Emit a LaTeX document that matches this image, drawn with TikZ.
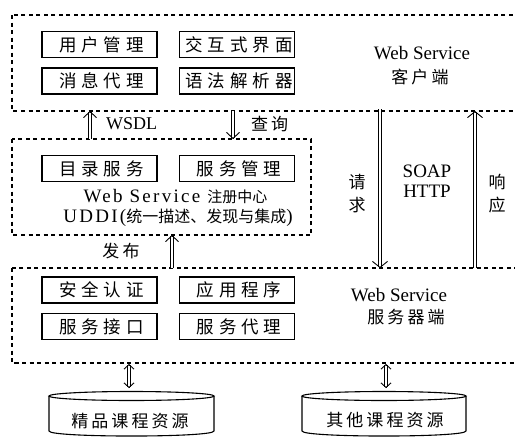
\documentclass[tikz,border=0pt]{standalone}
\usepackage{fontspec}
\setmainfont{Liberation Serif}
\newfontfamily\serifwide{Liberation Serif}[LetterSpace=12]
\newfontfamily\cjk{Noto Sans CJK SC}
\newfontfamily\cjkwide{Noto Sans CJK SC}[LetterSpace=28]
\newfontfamily\cjkmid{Noto Sans CJK SC}[LetterSpace=18]
\usetikzlibrary{arrows.meta,calc}

% hollow double-shaft arrow: shaft from #1 to #2, open chevron at #2
\newcommand\flowarrow[3][14pt]{%
  \draw[shaft, shorten >=1pt] (#2) -- (#3);
  \draw[barb, -{Straight Barb[length=6pt, width=#1]}] ($(#3)!0.5pt!(#2)$) -- (#3);}
\newcommand\bothways[2]{%
  \draw[shaft, shorten >=1pt, shorten <=1pt] (#1) -- (#2);
  \draw[barb, -{Straight Barb[length=4.5pt, width=10pt]}] ($(#2)!0.5pt!(#1)$) -- (#2);
  \draw[barb, -{Straight Barb[length=4.5pt, width=10pt]}] ($(#1)!0.5pt!(#2)$) -- (#1);}

\begin{document}
\begin{tikzpicture}[x=1pt,y=-1pt,
  frame/.style={draw, line width=1.1pt, dash pattern=on 4pt off 3.5pt},
  unit/.style={draw, line width=1.5pt, minimum width=115pt, minimum height=26pt,
    inner sep=0pt, font=\fontsize{17.5}{20}\cjkwide},
  latin/.style={inner sep=0pt, font=\fontsize{19}{20}\selectfont, align=center},
  hanzi/.style={inner sep=0pt, font=\fontsize{17}{23}\cjkmid, align=center},
  shaft/.style={double, double distance=2.4pt, line width=0.8pt},
  barb/.style={line width=0.9pt},
  drum/.style={line width=1.1pt}]

\useasboundingbox (0,0) rectangle (515,437);
\clip (0,0) rectangle (515,437);

% ---------- client tier ----------
\draw[frame] (12,15) rectangle (530,111);
\coordinate (cliB-wsdl) at (90,111);
\coordinate (cliB-query) at (233,111);
\coordinate (cliB-req) at (380,109);
\coordinate (cliB-resp) at (475,111);
\node[unit] (user)  at (99.5,44.5) {\hspace{4pt}用户管理};
\node[unit] (ui)    at (237,44.5)  {\hspace{4pt}交互式界面};
\node[unit] (msg)   at (99.5,81)   {\hspace{4pt}消息代理};
\node[unit] (parse) at (237,81)    {\hspace{4pt}语法解析器};
\node[latin] (cliname) at (422,53) {Web Service};
\node[hanzi] (clisub)  at (420,77) {客户端};

% ---------- registry ----------
\draw[frame] (12,139) rectangle (311,235);
\coordinate (regT-wsdl) at (90,139);
\coordinate (regT-query) at (233,139);
\coordinate (regB-pub) at (172,235);
\node[unit] (dir)  at (99.5,168.5) {\hspace{4pt}目录服务};
\node[unit] (mgmt) at (237,168.5)  {\hspace{4pt}服务管理};
\node[inner sep=0pt] (regname) at (175.5,197)
  {\fontsize{19}{20}\serifwide Web Service \fontsize{15}{20}\cjk 注册中心};
\node[inner sep=0pt] (uddi) at (178,218)
  {\fontsize{19}{20}\serifwide UDDI(\fontsize{16}{20}\cjk 统一描述、发现与集成\fontsize{19}{20}\serifwide )};

% ---------- server tier ----------
\draw[frame] (12,268) rectangle (530,363);
\coordinate (srvT-pub) at (172,268);
\coordinate (srvT-req) at (380,268);
\coordinate (srvT-resp) at (475,268);
\coordinate (srvB-a) at (129,364);
\coordinate (srvB-b) at (386,364);
\node[unit] (auth)  at (99.5,290)  {\hspace{4pt}安全认证};
\node[unit] (app)   at (237,290)   {\hspace{4pt}应用程序};
\node[unit] (iface) at (99.5,326.5){\hspace{4pt}服务接口};
\node[unit] (proxy) at (237,326.5) {\hspace{4pt}服务代理};
\node[latin] (srvname) at (399,295) {Web Service};
\node[hanzi] (srvsub)  at (406,317) {服务器端};

% ---------- exchanges between tiers ----------
\flowarrow[13pt]{regT-wsdl}{cliB-wsdl}
\node[latin, anchor=west, font=\fontsize{18}{20}\selectfont] (wsdl) at (106,124) {WSDL};
\flowarrow[13pt]{cliB-query}{regT-query}
\node[hanzi, anchor=west] (query) at (251,124) {查询};
\flowarrow[13pt]{srvT-pub}{regB-pub}
\node[hanzi] (pub) at (121,251) {发布};
\flowarrow[15pt]{cliB-req}{srvT-req}
\flowarrow[15pt]{srvT-resp}{cliB-resp}
\node[hanzi] (req)  at (357,194) {请\\求};
\node[hanzi] (resp) at (497,194) {响\\应};
\node[latin] (proto) at (427,181.5) {SOAP\\HTTP};

% ---------- course resource stores ----------
\coordinate (dbT-a) at (129,388);
\coordinate (dbT-b) at (386,388);
\bothways{srvB-a}{dbT-a}
\bothways{srvB-b}{dbT-b}

\draw[drum] (131.5,396) ellipse [x radius=82.5, y radius=4.5];
\draw[drum] (49,396) -- (49,431) .. controls (49,437.7) and (214,437.7) .. (214,431) -- (214,396);
\node[hanzi, font=\fontsize{17}{20}\cjkmid] (res1) at (130,421) {精品课程资源};

\draw[drum] (384,396) ellipse [x radius=82, y radius=4.5];
\draw[drum] (302,396) -- (302,431) .. controls (302,437.7) and (466,437.7) .. (466,431) -- (466,396);
\node[hanzi, font=\fontsize{17}{20}\cjkmid] (res2) at (385,420) {其他课程资源};
\end{tikzpicture}
\end{document}
